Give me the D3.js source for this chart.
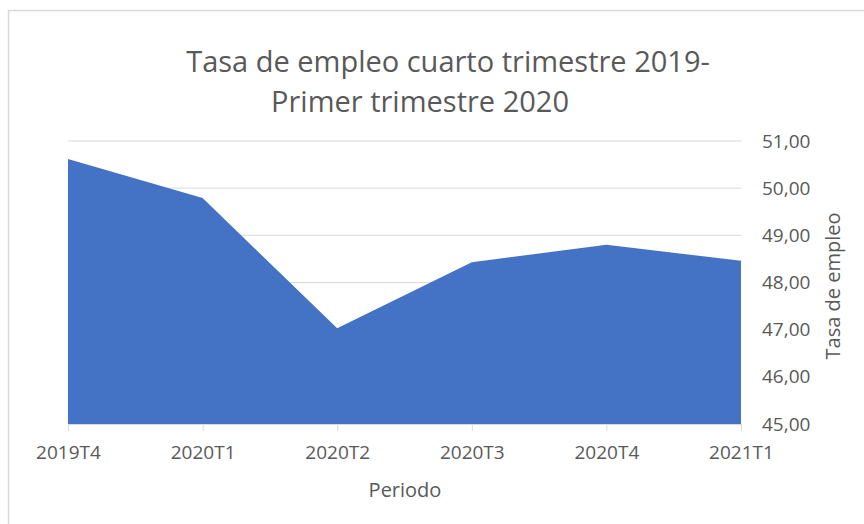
<!DOCTYPE html>
<html>
<head>
<meta charset="utf-8">
<script src="https://cdn.jsdelivr.net/npm/d3@7"></script>
<style>
  body { margin: 0; background: #fff; }
  text { font-family: "Open Sans", sans-serif; fill: #595959; }
</style>
</head>
<body>
<div id="chart"></div>
<script>
"use strict";

// datos
const periodos = ["2019T4", "2020T1", "2020T2", "2020T3", "2020T4", "2021T1"];
const tasaEmpleo = [50.62, 49.79, 47.03, 48.43, 48.80, 48.46];
const yTicks = [45, 46, 47, 48, 49, 50, 51];
const tituloLineas = ["Tasa de empleo cuarto trimestre 2019-", "Primer trimestre 2020"];

const w = 864, h = 524;
const plot = { left: 68, right: 741, top: 141, bottom: 424 };

const svg = d3.select("#chart").append("svg")
    .attr("width", w)
    .attr("height", h);

// marco del grafico
svg.append("rect")
    .attr("x", 8.5).attr("y", 10.5)
    .attr("width", w + 20).attr("height", h + 20)
    .attr("fill", "none")
    .attr("stroke", "#d9d9d9")
    .attr("stroke-width", 1.5);

const x = d3.scalePoint()
    .domain(periodos)
    .range([plot.left, plot.right]);

const y = d3.scaleLinear()
    .domain([45, 51])
    .range([plot.bottom, plot.top]);

// lineas de cuadricula
svg.append("g")
    .selectAll("line")
    .data(yTicks.filter(d => d > 45))
    .enter().append("line")
    .attr("x1", plot.left).attr("x2", plot.right)
    .attr("y1", d => y(d)).attr("y2", d => y(d))
    .attr("stroke", "#d9d9d9")
    .attr("stroke-width", 1);

// area
const data = periodos.map((p, i) => ({ p: p, v: tasaEmpleo[i] }));
svg.append("path")
    .datum(data)
    .attr("fill", "#4472c4")
    .attr("d", d3.area()
        .x(d => x(d.p))
        .y0(y(45))
        .y1(d => y(d.v)));

// eje x
const xAxis = svg.append("g")
    .attr("transform", "translate(0," + plot.bottom + ")")
    .call(d3.axisBottom(x).tickSize(7).tickPadding(15));
xAxis.select(".domain").attr("stroke", "#d9d9d9");
xAxis.selectAll(".tick line").attr("stroke", "#d9d9d9");
xAxis.selectAll("text")
    .style("font-size", "19px")
    .attr("fill", "#595959");

// eje y (derecha)
const yAxis = svg.append("g")
    .attr("transform", "translate(" + plot.right + ",0)")
    .call(d3.axisRight(y)
        .tickValues(yTicks)
        .tickSize(0)
        .tickPadding(21)
        .tickFormat(d => d3.format(".2f")(d).replace(".", ",")));
yAxis.select(".domain").remove();
yAxis.selectAll("text")
    .style("font-size", "19px")
    .attr("fill", "#595959");

// titulo
svg.append("text")
    .attr("x", 448).attr("y", 72)
    .attr("text-anchor", "middle")
    .style("font-size", "29px")
    .text(tituloLineas[0]);
svg.append("text")
    .attr("x", 420).attr("y", 112)
    .attr("text-anchor", "middle")
    .style("font-size", "29px")
    .text(tituloLineas[1]);

// titulos de ejes
svg.append("text")
    .attr("x", 405).attr("y", 497)
    .attr("text-anchor", "middle")
    .style("font-size", "20px")
    .text("Periodo");

svg.append("text")
    .attr("transform", "translate(840,286) rotate(-90)")
    .attr("text-anchor", "middle")
    .style("font-size", "20px")
    .text("Tasa de empleo");
</script>
</body>
</html>
